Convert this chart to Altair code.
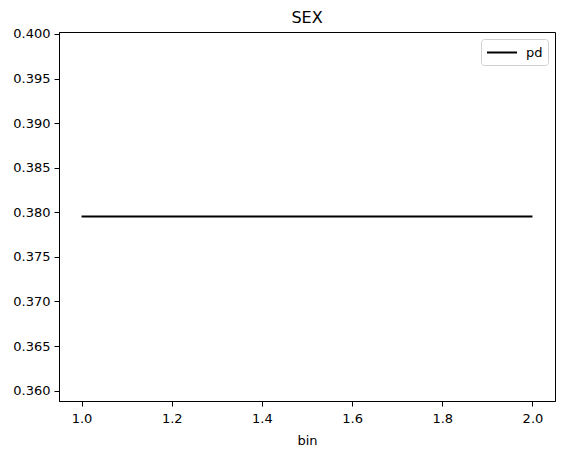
import altair as alt
import pandas as pd

bins = [1.0, 2.0]
pd_values = [0.37953, 0.37953]
series = ["pd", "pd"]

df = pd.DataFrame({"bin": bins, "value": pd_values, "series": series})

x_ticks = [1.0, 1.2, 1.4, 1.6, 1.8, 2.0]
y_ticks = [0.360, 0.365, 0.370, 0.375, 0.380, 0.385, 0.390, 0.395, 0.400]

chart = alt.Chart(df).mark_line(strokeWidth=2).encode(
    x=alt.X("bin:Q", title="bin",
            scale=alt.Scale(domain=[0.95, 2.05], nice=False, zero=False),
            axis=alt.Axis(values=x_ticks, format=".1f", grid=False, tickSize=5,
                          labelFontSize=13, titleFontSize=13, titleFontWeight="normal",
                          labelColor="black", titleColor="black", domainColor="black",
                          tickColor="black", labelPadding=6, titlePadding=9,
                          labelFont="DejaVu Sans", titleFont="DejaVu Sans")),
    y=alt.Y("value:Q", title=None,
            scale=alt.Scale(domain=[0.35884, 0.40022], nice=False, zero=False),
            axis=alt.Axis(values=y_ticks, format=".3f", grid=False, tickSize=5,
                          labelFontSize=13, labelColor="black", domainColor="black",
                          tickColor="black", labelPadding=4, labelFont="DejaVu Sans")),
    color=alt.Color("series:N", scale=alt.Scale(range=["black"]),
                    legend=alt.Legend(title=None, orient="none", legendX=422, legendY=7,
                                      symbolType="M-1,0L3,0", symbolStrokeWidth=2, symbolSize=225,
                                      labelOffset=23, labelFontSize=13, labelFont="DejaVu Sans",
                                      labelColor="black",
                                      strokeColor="#d0d0d0", cornerRadius=3, padding=5,
                                      fillColor="white")),
).properties(
    width=496, height=369,
    title=alt.TitleParams("SEX", fontSize=16, fontWeight="normal", font="DejaVu Sans",
                          color="black", anchor="middle", offset=2),
    autosize=alt.AutoSizeParams(type="none"),
    padding={"left": 51, "top": 24, "right": 2, "bottom": 47},
).configure_view(stroke="black", strokeWidth=1)

chart.save("out.html", embed_options={"renderer": "svg", "actions": False})
